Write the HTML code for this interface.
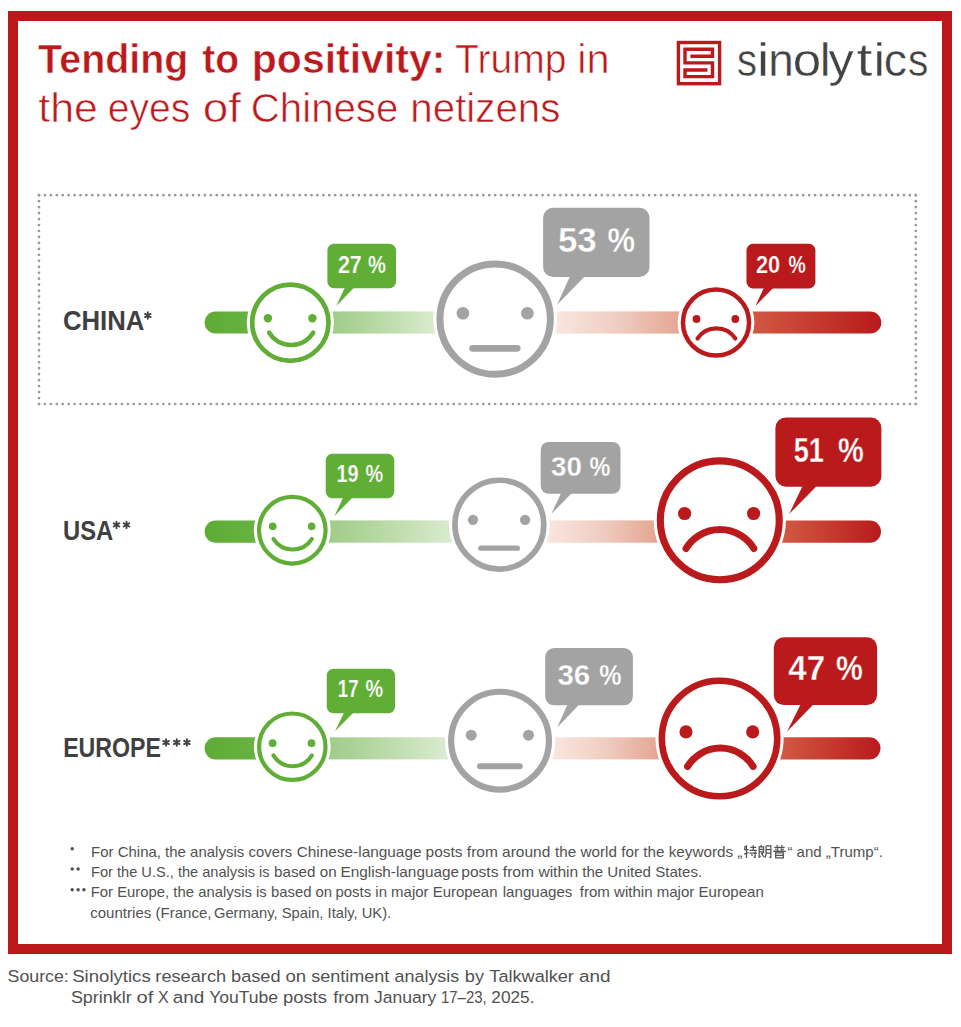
<!DOCTYPE html>
<html><head><meta charset="utf-8"><title>Trump in the eyes of Chinese netizens</title>
<style>
html,body{margin:0;padding:0;background:#fff;}
body{width:961px;height:1027px;overflow:hidden;position:relative;font-family:"Liberation Sans",sans-serif;}
svg{position:absolute;left:0;top:0;display:block;}
svg text{font-family:"Liberation Sans",sans-serif;}
</style></head><body>
<svg width="961" height="1027" viewBox="0 0 961 1027">
<defs>
<linearGradient id="g0a" gradientUnits="userSpaceOnUse" x1="204.6" x2="247.5" y1="0" y2="0"><stop offset="0" stop-color="#5dac34"/><stop offset="1" stop-color="#67b241"/></linearGradient>
<linearGradient id="g1a" gradientUnits="userSpaceOnUse" x1="333.3" x2="433.8" y1="0" y2="0"><stop offset="0" stop-color="#a0cc89"/><stop offset="0.5" stop-color="#bcdba9"/><stop offset="1" stop-color="#d9ebcf"/></linearGradient>
<linearGradient id="g2a" gradientUnits="userSpaceOnUse" x1="556.5" x2="678.5" y1="0" y2="0"><stop offset="0" stop-color="#f9e6df"/><stop offset="0.5" stop-color="#f0cdc1"/><stop offset="1" stop-color="#e4a794"/></linearGradient>
<linearGradient id="g3a" gradientUnits="userSpaceOnUse" x1="753.5" x2="881.3" y1="0" y2="0"><stop offset="0" stop-color="#d15843"/><stop offset="0.5" stop-color="#c5392d"/><stop offset="1" stop-color="#b81a1c"/></linearGradient>

<linearGradient id="g0b" gradientUnits="userSpaceOnUse" x1="204.6" x2="254.9" y1="0" y2="0"><stop offset="0" stop-color="#5dac34"/><stop offset="1" stop-color="#67b241"/></linearGradient>
<linearGradient id="g1b" gradientUnits="userSpaceOnUse" x1="329.2" x2="450.7" y1="0" y2="0"><stop offset="0" stop-color="#a0cc89"/><stop offset="0.5" stop-color="#bcdba9"/><stop offset="1" stop-color="#d9ebcf"/></linearGradient>
<linearGradient id="g2b" gradientUnits="userSpaceOnUse" x1="546.9" x2="654.5" y1="0" y2="0"><stop offset="0" stop-color="#f9e6df"/><stop offset="0.5" stop-color="#f0cdc1"/><stop offset="1" stop-color="#e4a794"/></linearGradient>
<linearGradient id="g3b" gradientUnits="userSpaceOnUse" x1="784.5" x2="881.0" y1="0" y2="0"><stop offset="0" stop-color="#d15843"/><stop offset="0.5" stop-color="#c5392d"/><stop offset="1" stop-color="#b81a1c"/></linearGradient>

<linearGradient id="g0c" gradientUnits="userSpaceOnUse" x1="204.6" x2="254.9" y1="0" y2="0"><stop offset="0" stop-color="#5dac34"/><stop offset="1" stop-color="#67b241"/></linearGradient>
<linearGradient id="g1c" gradientUnits="userSpaceOnUse" x1="329.2" x2="446.0" y1="0" y2="0"><stop offset="0" stop-color="#a0cc89"/><stop offset="0.5" stop-color="#bcdba9"/><stop offset="1" stop-color="#d9ebcf"/></linearGradient>
<linearGradient id="g2c" gradientUnits="userSpaceOnUse" x1="554.0" x2="656.6" y1="0" y2="0"><stop offset="0" stop-color="#f9e6df"/><stop offset="0.5" stop-color="#f0cdc1"/><stop offset="1" stop-color="#e4a794"/></linearGradient>
<linearGradient id="g3c" gradientUnits="userSpaceOnUse" x1="782.6" x2="880.5" y1="0" y2="0"><stop offset="0" stop-color="#d15843"/><stop offset="0.5" stop-color="#c5392d"/><stop offset="1" stop-color="#b81a1c"/></linearGradient>
</defs>
<rect x="13" y="16" width="934" height="933" fill="none" stroke="#bb1a1d" stroke-width="10"/>
<g fill="none" stroke="#999" stroke-width="2.7" stroke-linecap="round"><path d="M39.0 195.2 H915.8" stroke-dasharray="0 5.9243"/><path d="M39.0 404.0 H915.8" stroke-dasharray="0 5.9243"/><path d="M39.0 195.2 V404.0" stroke-dasharray="0 5.9657"/><path d="M915.8 195.2 V404.0" stroke-dasharray="0 5.9657"/></g>
<text x="38.11" y="72.9" font-size="40.0" font-weight="bold" fill="#bb1a1d" textLength="150.32" lengthAdjust="spacingAndGlyphs" stroke="#fff" stroke-width="0.5">Tending</text>
<text x="202.21" y="72.9" font-size="40.0" font-weight="bold" fill="#bb1a1d" textLength="36.91" lengthAdjust="spacingAndGlyphs" stroke="#fff" stroke-width="0.5">to</text>
<text x="251.83" y="72.9" font-size="40.0" font-weight="bold" fill="#bb1a1d" textLength="193.57" lengthAdjust="spacingAndGlyphs" stroke="#fff" stroke-width="0.5">positivity:</text>
<text x="455.02" y="72.9" font-size="40.0" fill="#bb1a1d" textLength="111.43" lengthAdjust="spacingAndGlyphs" stroke="#fff" stroke-width="0.6">Trump</text>
<text x="577.39" y="72.9" font-size="40.0" fill="#bb1a1d" textLength="32.35" lengthAdjust="spacingAndGlyphs" stroke="#fff" stroke-width="0.6">in</text>
<text x="38.24" y="121.7" font-size="40.0" fill="#bb1a1d" textLength="59.68" lengthAdjust="spacingAndGlyphs" stroke="#fff" stroke-width="0.6">the</text>
<text x="107.74" y="121.7" font-size="40.0" fill="#bb1a1d" textLength="82.53" lengthAdjust="spacingAndGlyphs" stroke="#fff" stroke-width="0.6">eyes</text>
<text x="202.76" y="121.7" font-size="40.0" fill="#bb1a1d" textLength="38.32" lengthAdjust="spacingAndGlyphs" stroke="#fff" stroke-width="0.6">of</text>
<text x="250.79" y="121.7" font-size="40.0" fill="#bb1a1d" textLength="147.58" lengthAdjust="spacingAndGlyphs" stroke="#fff" stroke-width="0.6">Chinese</text>
<text x="410.38" y="121.7" font-size="40.0" fill="#bb1a1d" textLength="149.91" lengthAdjust="spacingAndGlyphs" stroke="#fff" stroke-width="0.6">netizens</text>
<text x="736.9" y="75.9" font-size="47.0" fill="#434343" textLength="20.0" lengthAdjust="spacingAndGlyphs" stroke="#fff" stroke-width="0.4">s</text>
<text x="756.95" y="75.9" font-size="47.0" fill="#434343" textLength="12.22" lengthAdjust="spacingAndGlyphs" stroke="#fff" stroke-width="0.4">i</text>
<text x="768.18" y="75.9" font-size="47.0" fill="#434343" textLength="25.56" lengthAdjust="spacingAndGlyphs" stroke="#fff" stroke-width="0.4">n</text>
<text x="792.76" y="75.9" font-size="47.0" fill="#434343" textLength="28.4" lengthAdjust="spacingAndGlyphs" stroke="#fff" stroke-width="0.4">o</text>
<text x="819.78" y="75.9" font-size="47.0" fill="#434343" textLength="10.86" lengthAdjust="spacingAndGlyphs" stroke="#fff" stroke-width="0.4">l</text>
<text x="828.4" y="75.9" font-size="47.0" fill="#434343" textLength="25.2" lengthAdjust="spacingAndGlyphs" stroke="#fff" stroke-width="0.4">y</text>
<text x="856.46" y="75.9" font-size="47.0" fill="#434343" textLength="15.9" lengthAdjust="spacingAndGlyphs" stroke="#fff" stroke-width="0.4">t</text>
<text x="873.43" y="75.9" font-size="47.0" fill="#434343" textLength="11.66" lengthAdjust="spacingAndGlyphs" stroke="#fff" stroke-width="0.4">i</text>
<text x="883.84" y="75.9" font-size="47.0" fill="#434343" textLength="23.26" lengthAdjust="spacingAndGlyphs" stroke="#fff" stroke-width="0.4">c</text>
<text x="907.88" y="75.9" font-size="47.0" fill="#434343" textLength="20.35" lengthAdjust="spacingAndGlyphs" stroke="#fff" stroke-width="0.4">s</text>

<g fill="none" stroke="#bb1a1d" stroke-width="3.4">
<rect x="678.4" y="42.5" width="41.2" height="41.2"/>
<path d="M690.4 56.2 H712.5 V49.3 H685 V62.9 H712.5 V76.6 H685 V70 H707.5"/>
</g>

<text x="62.97" y="330.2" font-size="27.3" font-weight="bold" fill="#404040" textLength="81.46" lengthAdjust="spacingAndGlyphs">CHINA</text>
<text x="62.97" y="539.6" font-size="27.3" font-weight="bold" fill="#404040" textLength="50.28" lengthAdjust="spacingAndGlyphs">USA</text>
<text x="63.18" y="757.2" font-size="27.0" font-weight="bold" fill="#404040" textLength="97.82" lengthAdjust="spacingAndGlyphs">EUROPE</text>
<path d="M147.80 318.75 L147.80 312.25 M144.99 317.12 L150.61 313.88 M150.61 317.12 L144.99 313.88 " stroke="#404040" stroke-width="1.85" stroke-linecap="round" fill="none"/>
<path d="M116.50 528.15 L116.50 521.65 M113.69 526.52 L119.31 523.27 M119.31 526.52 L113.69 523.27 " stroke="#404040" stroke-width="1.85" stroke-linecap="round" fill="none"/>
<path d="M126.50 528.15 L126.50 521.65 M123.69 526.52 L129.31 523.27 M129.31 526.52 L123.69 523.27 " stroke="#404040" stroke-width="1.85" stroke-linecap="round" fill="none"/>
<path d="M166.10 745.75 L166.10 739.25 M163.29 744.12 L168.91 740.88 M168.91 744.12 L163.29 740.88 " stroke="#404040" stroke-width="1.85" stroke-linecap="round" fill="none"/>
<path d="M176.70 745.75 L176.70 739.25 M173.89 744.12 L179.51 740.88 M179.51 744.12 L173.89 740.88 " stroke="#404040" stroke-width="1.85" stroke-linecap="round" fill="none"/>
<path d="M186.90 745.75 L186.90 739.25 M184.09 744.12 L189.71 740.88 M189.71 744.12 L184.09 740.88 " stroke="#404040" stroke-width="1.85" stroke-linecap="round" fill="none"/>
<path d="M215.70000000000002 311.4 L291 311.4 L291 333.6 L215.70000000000002 333.6 A11.100000000000023 11.100000000000023 0 0 1 215.70000000000002 311.4 Z" fill="url(#g0a)"/>
<rect x="291" y="311.4" width="204" height="22.200000000000045" fill="url(#g1a)"/>
<rect x="495" y="311.4" width="221" height="22.200000000000045" fill="url(#g2a)"/>
<path d="M716 311.4 L870.1999999999999 311.4 A11.100000000000023 11.100000000000023 0 0 1 870.1999999999999 333.6 L716 333.6 Z" fill="url(#g3a)"/>
<circle cx="290.35" cy="322.7" r="43.6" fill="#fff"/>
<circle cx="290.35" cy="322.7" r="38.15" fill="#fff" stroke="#60ae36" stroke-width="4.7"/>
<circle cx="267.9" cy="318.3" r="4.2" fill="#60ae36"/>
<circle cx="312.4" cy="318.3" r="4.2" fill="#60ae36"/>
<path d="M269.20 332.70 A25.82 25.82 0 0 0 313.20 332.70" fill="none" stroke="#60ae36" stroke-width="4.5" stroke-linecap="round"/>
<circle cx="495.15" cy="319.1" r="61.800000000000004" fill="#fff"/>
<circle cx="495.15" cy="319.1" r="55.2" fill="#fff" stroke="#a3a3a3" stroke-width="7.0"/>
<circle cx="462.9" cy="313.2" r="6.3" fill="#a3a3a3"/>
<circle cx="527.4" cy="313.2" r="6.3" fill="#a3a3a3"/>
<line x1="472.6" y1="348.3" x2="517.2" y2="348.3" stroke="#a3a3a3" stroke-width="6.8" stroke-linecap="round"/>
<circle cx="716" cy="322.5" r="38.4" fill="#fff"/>
<circle cx="716" cy="322.5" r="33.05" fill="#fff" stroke="#bb1a1d" stroke-width="4.5"/>
<circle cx="696.5" cy="319.0" r="3.9" fill="#bb1a1d"/>
<circle cx="735.3" cy="319.0" r="3.9" fill="#bb1a1d"/>
<path d="M697.50 338.50 A22.83 22.83 0 0 1 735.40 338.50" fill="none" stroke="#bb1a1d" stroke-width="4.1" stroke-linecap="round"/>
<rect x="327.4" y="243.8" width="68.60" height="44.40" rx="6.5" fill="#60ae36"/>
<path d="M345.0 287.2 L354.4 287.2 L336.25 306.0 Z" fill="#60ae36"/>
<text x="337.94" y="272.5" font-size="23.29" font-weight="bold" fill="#fff" textLength="23.88" lengthAdjust="spacingAndGlyphs" stroke="#60ae36" stroke-width="0.23">27</text>
<text x="367.88" y="272.5" font-size="23.29" font-weight="bold" fill="#fff" textLength="17.92" lengthAdjust="spacingAndGlyphs" stroke="#60ae36" stroke-width="0.23">%</text>
<rect x="543.1" y="207.8" width="106.40" height="69.20" rx="10" fill="#a3a3a3"/>
<path d="M570.1 276.0 L585.1 276.0 L557.1 304.7 Z" fill="#a3a3a3"/>
<text x="557.88" y="252.0" font-size="35.29" font-weight="bold" fill="#fff" textLength="38.88" lengthAdjust="spacingAndGlyphs" stroke="#a3a3a3" stroke-width="0.35">53</text>
<text x="607.39" y="252.0" font-size="35.29" font-weight="bold" fill="#fff" textLength="27.59" lengthAdjust="spacingAndGlyphs" stroke="#a3a3a3" stroke-width="0.35">%</text>
<rect x="746.5" y="243.8" width="68.90" height="44.60" rx="6.5" fill="#bb1a1d"/>
<path d="M764.1 287.4 L773.7 287.4 L755.4 305.9 Z" fill="#bb1a1d"/>
<text x="755.93" y="272.6" font-size="23.29" font-weight="bold" fill="#fff" textLength="24.2" lengthAdjust="spacingAndGlyphs" stroke="#bb1a1d" stroke-width="0.23">20</text>
<text x="788.4" y="272.6" font-size="23.29" font-weight="bold" fill="#fff" textLength="17.28" lengthAdjust="spacingAndGlyphs" stroke="#bb1a1d" stroke-width="0.23">%</text>
<path d="M215.75000000000003 520.4 L292 520.4 L292 542.7 L215.75000000000003 542.7 A11.150000000000034 11.150000000000034 0 0 1 215.75000000000003 520.4 Z" fill="url(#g0b)"/>
<rect x="292" y="520.4" width="207" height="22.300000000000068" fill="url(#g1b)"/>
<rect x="499" y="520.4" width="221" height="22.300000000000068" fill="url(#g2b)"/>
<path d="M720 520.4 L869.8499999999999 520.4 A11.150000000000034 11.150000000000034 0 0 1 869.8499999999999 542.7 L720 542.7 Z" fill="url(#g3b)"/>
<circle cx="292.3" cy="530.25" r="38.5" fill="#fff"/>
<circle cx="292.3" cy="530.25" r="33.3" fill="#fff" stroke="#60ae36" stroke-width="4.2"/>
<circle cx="272.7" cy="526.3" r="3.85" fill="#60ae36"/>
<circle cx="311.6" cy="526.3" r="3.85" fill="#60ae36"/>
<path d="M273.40 538.90 A22.78 22.78 0 0 0 311.90 538.90" fill="none" stroke="#60ae36" stroke-width="4.0" stroke-linecap="round"/>
<circle cx="499.35" cy="524.65" r="50.35" fill="#fff"/>
<circle cx="499.35" cy="524.65" r="44.4" fill="#fff" stroke="#a3a3a3" stroke-width="5.7"/>
<circle cx="473.0" cy="519.8" r="5.15" fill="#a3a3a3"/>
<circle cx="525.1" cy="519.8" r="5.15" fill="#a3a3a3"/>
<line x1="480.8" y1="548.2" x2="517.4" y2="548.2" stroke="#a3a3a3" stroke-width="5.2" stroke-linecap="round"/>
<circle cx="719.8" cy="520.3" r="66.1" fill="#fff"/>
<circle cx="719.8" cy="520.3" r="59.45" fill="#fff" stroke="#bb1a1d" stroke-width="7.1"/>
<circle cx="684.6" cy="513.5" r="6.6" fill="#bb1a1d"/>
<circle cx="753.6" cy="513.5" r="6.6" fill="#bb1a1d"/>
<path d="M686.10 548.40 A39.76 39.76 0 0 1 753.80 548.40" fill="none" stroke="#bb1a1d" stroke-width="7.1" stroke-linecap="round"/>
<rect x="325.75" y="453.75" width="68.50" height="44.50" rx="6.5" fill="#60ae36"/>
<path d="M343.25 497.25 L352.75 497.25 L334.5 516.0 Z" fill="#60ae36"/>
<text x="336.48" y="482.0" font-size="23.71" font-weight="bold" fill="#fff" textLength="22.18" lengthAdjust="spacingAndGlyphs" stroke="#60ae36" stroke-width="0.24">19</text>
<text x="365.49" y="482.0" font-size="23.71" font-weight="bold" fill="#fff" textLength="17.61" lengthAdjust="spacingAndGlyphs" stroke="#60ae36" stroke-width="0.24">%</text>
<rect x="540.7" y="441.9" width="79.80" height="51.90" rx="8" fill="#a3a3a3"/>
<path d="M561.2 492.8 L572.1 492.8 L551.3 514.1 Z" fill="#a3a3a3"/>
<text x="551.11" y="475.5" font-size="27.43" font-weight="bold" fill="#fff" textLength="30.9" lengthAdjust="spacingAndGlyphs" stroke="#a3a3a3" stroke-width="0.27">30</text>
<text x="589.56" y="475.5" font-size="27.43" font-weight="bold" fill="#fff" textLength="20.86" lengthAdjust="spacingAndGlyphs" stroke="#a3a3a3" stroke-width="0.27">%</text>
<rect x="775.4" y="417.5" width="106.00" height="69.20" rx="10.5" fill="#bb1a1d"/>
<path d="M802.7 485.7 L817.0 485.7 L789.1 514.1 Z" fill="#bb1a1d"/>
<text x="793.71" y="462.0" font-size="35.29" font-weight="bold" fill="#fff" textLength="30.25" lengthAdjust="spacingAndGlyphs" stroke="#bb1a1d" stroke-width="0.35">51</text>
<text x="838.06" y="462.0" font-size="35.29" font-weight="bold" fill="#fff" textLength="25.77" lengthAdjust="spacingAndGlyphs" stroke="#bb1a1d" stroke-width="0.35">%</text>
<path d="M215.65 737.3 L292 737.3 L292 759.4 L215.65 759.4 A11.050000000000011 11.050000000000011 0 0 1 215.65 737.3 Z" fill="url(#g0c)"/>
<rect x="292" y="737.3" width="208" height="22.100000000000023" fill="url(#g1c)"/>
<rect x="500" y="737.3" width="220" height="22.100000000000023" fill="url(#g2c)"/>
<path d="M720 737.3 L869.45 737.3 A11.050000000000011 11.050000000000011 0 0 1 869.45 759.4 L720 759.4 Z" fill="url(#g3c)"/>
<circle cx="292.3" cy="746.7" r="38.4" fill="#fff"/>
<circle cx="292.3" cy="746.7" r="33.199999999999996" fill="#fff" stroke="#60ae36" stroke-width="4.2"/>
<circle cx="272.6" cy="743.2" r="3.85" fill="#60ae36"/>
<circle cx="311.5" cy="743.2" r="3.85" fill="#60ae36"/>
<path d="M273.40 755.40 A22.56 22.56 0 0 0 311.90 755.40" fill="none" stroke="#60ae36" stroke-width="4.0" stroke-linecap="round"/>
<circle cx="500.05" cy="740.65" r="55.1" fill="#fff"/>
<circle cx="500.05" cy="740.65" r="48.9" fill="#fff" stroke="#a3a3a3" stroke-width="6.2"/>
<circle cx="471.2" cy="735.2" r="5.5" fill="#a3a3a3"/>
<circle cx="528.5" cy="735.2" r="5.5" fill="#a3a3a3"/>
<line x1="480.1" y1="766.2" x2="519.7" y2="766.2" stroke="#a3a3a3" stroke-width="6.0" stroke-linecap="round"/>
<circle cx="719.55" cy="738.5" r="64.1" fill="#fff"/>
<circle cx="719.55" cy="738.5" r="57.7" fill="#fff" stroke="#bb1a1d" stroke-width="6.6"/>
<circle cx="686.0" cy="731.9" r="6.55" fill="#bb1a1d"/>
<circle cx="752.7" cy="731.9" r="6.55" fill="#bb1a1d"/>
<path d="M687.60 766.40 A38.45 38.45 0 0 1 753.10 766.40" fill="none" stroke="#bb1a1d" stroke-width="7.0" stroke-linecap="round"/>
<rect x="326.75" y="668.75" width="68.25" height="44.50" rx="6.5" fill="#60ae36"/>
<path d="M344.25 712.25 L353.75 712.25 L335.0 731.25 Z" fill="#60ae36"/>
<text x="337.87" y="697.3" font-size="23.14" font-weight="bold" fill="#fff" textLength="20.74" lengthAdjust="spacingAndGlyphs" stroke="#60ae36" stroke-width="0.23">17</text>
<text x="365.49" y="697.3" font-size="23.14" font-weight="bold" fill="#fff" textLength="17.6" lengthAdjust="spacingAndGlyphs" stroke="#60ae36" stroke-width="0.23">%</text>
<rect x="545.2" y="648.1" width="87.70" height="57.20" rx="9" fill="#a3a3a3"/>
<path d="M567.6 704.3 L579.5 704.3 L557.2 727.4 Z" fill="#a3a3a3"/>
<text x="557.46" y="684.7" font-size="29.71" font-weight="bold" fill="#fff" textLength="32.84" lengthAdjust="spacingAndGlyphs" stroke="#a3a3a3" stroke-width="0.3">36</text>
<text x="599.2" y="684.7" font-size="29.71" font-weight="bold" fill="#fff" textLength="22.28" lengthAdjust="spacingAndGlyphs" stroke="#a3a3a3" stroke-width="0.3">%</text>
<rect x="773.8" y="637.2" width="103.30" height="67.90" rx="10" fill="#bb1a1d"/>
<path d="M800.8 704.1 L813.8 704.1 L787.1 731.5 Z" fill="#bb1a1d"/>
<text x="788.27" y="680.1" font-size="34.43" font-weight="bold" fill="#fff" textLength="36.8" lengthAdjust="spacingAndGlyphs" stroke="#bb1a1d" stroke-width="0.34">47</text>
<text x="836.12" y="680.1" font-size="34.43" font-weight="bold" fill="#fff" textLength="26.83" lengthAdjust="spacingAndGlyphs" stroke="#bb1a1d" stroke-width="0.34">%</text>
<g fill="#515151"><circle cx="72.2" cy="848.7" r="1.75"/><circle cx="72.2" cy="869.1" r="1.75"/><circle cx="78.1" cy="869.1" r="1.75"/><circle cx="72.2" cy="889.7" r="1.75"/><circle cx="78.1" cy="889.7" r="1.75"/><circle cx="83.9" cy="889.7" r="1.75"/></g>
<text x="91.0" y="856.6" font-size="14.3" fill="#515151" textLength="153.26" lengthAdjust="spacingAndGlyphs">For China, the analysis</text>
<text x="248.61" y="856.6" font-size="14.3" fill="#515151" textLength="43.62" lengthAdjust="spacingAndGlyphs">covers</text>
<text x="296.73" y="856.6" font-size="14.3" fill="#515151" textLength="124.79" lengthAdjust="spacingAndGlyphs">Chinese-language</text>
<text x="425.62" y="856.6" font-size="14.3" fill="#515151" textLength="124.66" lengthAdjust="spacingAndGlyphs">posts from around</text>
<text x="555.1" y="856.6" font-size="14.3" fill="#515151" textLength="187.31" lengthAdjust="spacingAndGlyphs">the world for the keywords „</text>
<text x="787.4" y="856.6" font-size="14.3" fill="#515151" textLength="95.5" lengthAdjust="spacingAndGlyphs">“ and „Trump“.</text>
<text x="91.03" y="876.9" font-size="14.3" fill="#515151" textLength="178.61" lengthAdjust="spacingAndGlyphs">For the U.S., the analysis is</text>
<text x="274.14" y="876.9" font-size="14.3" fill="#515151" textLength="62.45" lengthAdjust="spacingAndGlyphs">based on</text>
<text x="340.57" y="876.9" font-size="14.3" fill="#515151" textLength="118.46" lengthAdjust="spacingAndGlyphs">English-language</text>
<text x="461.21" y="876.9" font-size="14.3" fill="#515151" textLength="117.07" lengthAdjust="spacingAndGlyphs">posts from within</text>
<text x="582.2" y="876.9" font-size="14.3" fill="#515151" textLength="119.95" lengthAdjust="spacingAndGlyphs">the United States.</text>
<text x="90.71" y="897.4" font-size="14.3" fill="#515151" textLength="241.41" lengthAdjust="spacingAndGlyphs">For Europe, the analysis is based on</text>
<text x="335.45" y="897.4" font-size="14.3" fill="#515151" textLength="162.08" lengthAdjust="spacingAndGlyphs">posts in major European</text>
<text x="502.74" y="897.4" font-size="14.3" fill="#515151" textLength="69.69" lengthAdjust="spacingAndGlyphs">languages</text>
<text x="579.75" y="897.4" font-size="14.3" fill="#515151" textLength="184.07" lengthAdjust="spacingAndGlyphs">from within major European</text>
<text x="90.2" y="917.8" font-size="14.3" fill="#515151" textLength="121.34" lengthAdjust="spacingAndGlyphs">countries (France,</text>
<text x="213.96" y="917.8" font-size="14.3" fill="#515151" textLength="177.2" lengthAdjust="spacingAndGlyphs">Germany, Spain, Italy, UK).</text>
<g fill="none" stroke="#515151" stroke-width="1.3" stroke-linecap="butt"><path transform="translate(743.60 845.0) scale(0.957)" d="M1.8 1 L1 4.2 M0.5 4.8 H5.2 M3 0.3 V13.5 M0.5 9.5 L5.2 7.8 M7 2.6 H13.2 M10.1 0.3 V5.6 M6.2 5.6 H14 M6.2 8.4 H14 M12 6.5 V13 L10.6 12.6 M8.2 9.8 L9.3 11.4"/><path transform="translate(758.20 845.0) scale(0.957)" d="M3.2 0 V1.6 M1 2 H5.6 V7.2 H1 Z M1 4.6 H5.6 M1 7.2 V12.6 L2.6 11.6 M3.2 8.4 L6.2 12.8 M5.6 7.6 L4 9.6 M8.2 1 V10 L7 13.2 M8.2 1 H13.2 V13 L11.6 12.6 M8.2 4.8 H13.2 M8.2 8.4 H13.2"/><path transform="translate(772.80 845.0) scale(0.957)" d="M4 0 L5 1.6 M10 0 L9 1.6 M1.6 2.6 H12.4 M5.2 2.6 V6.4 M8.8 2.6 V6.4 M2.8 3.8 L3.8 5.6 M11.2 3.8 L10.2 5.6 M0.4 6.6 H13.6 M3 8.2 H11 V13.4 H3 Z M3 10.8 H11"/></g>
<text x="7.61" y="982.3" font-size="17.4" fill="#515151" textLength="61.2" lengthAdjust="spacingAndGlyphs">Source:</text>
<text x="72.17" y="982.3" font-size="17.4" fill="#515151" textLength="78.56" lengthAdjust="spacingAndGlyphs">Sinolytics</text>
<text x="155.33" y="982.3" font-size="17.4" fill="#515151" textLength="70.78" lengthAdjust="spacingAndGlyphs">research</text>
<text x="231.03" y="982.3" font-size="17.4" fill="#515151" textLength="49.55" lengthAdjust="spacingAndGlyphs">based</text>
<text x="285.46" y="982.3" font-size="17.4" fill="#515151" textLength="20.71" lengthAdjust="spacingAndGlyphs">on</text>
<text x="311.26" y="982.3" font-size="17.4" fill="#515151" textLength="78.14" lengthAdjust="spacingAndGlyphs">sentiment</text>
<text x="394.48" y="982.3" font-size="17.4" fill="#515151" textLength="64.81" lengthAdjust="spacingAndGlyphs">analysis</text>
<text x="464.83" y="982.3" font-size="17.4" fill="#515151" textLength="19.18" lengthAdjust="spacingAndGlyphs">by</text>
<text x="489.34" y="982.3" font-size="17.4" fill="#515151" textLength="84.59" lengthAdjust="spacingAndGlyphs">Talkwalker</text>
<text x="578.94" y="982.3" font-size="17.4" fill="#515151" textLength="31.55" lengthAdjust="spacingAndGlyphs">and</text>
<text x="70.9" y="1002.6" font-size="17.4" fill="#515151" textLength="60.85" lengthAdjust="spacingAndGlyphs">Sprinklr</text>
<text x="136.59" y="1002.6" font-size="17.4" fill="#515151" textLength="16.79" lengthAdjust="spacingAndGlyphs">of</text>
<text x="158.02" y="1002.6" font-size="17.4" fill="#515151" textLength="10.72" lengthAdjust="spacingAndGlyphs">X</text>
<text x="172.84" y="1002.6" font-size="17.4" fill="#515151" textLength="31.55" lengthAdjust="spacingAndGlyphs">and</text>
<text x="209.27" y="1002.6" font-size="17.4" fill="#515151" textLength="68.8" lengthAdjust="spacingAndGlyphs">YouTube</text>
<text x="282.91" y="1002.6" font-size="17.4" fill="#515151" textLength="44.03" lengthAdjust="spacingAndGlyphs">posts</text>
<text x="333.22" y="1002.6" font-size="17.4" fill="#515151" textLength="36.04" lengthAdjust="spacingAndGlyphs">from</text>
<text x="374.05" y="1002.6" font-size="17.4" fill="#515151" textLength="62.28" lengthAdjust="spacingAndGlyphs">January</text>
<text x="440.9" y="1002.6" font-size="17.4" fill="#515151" textLength="45.83" lengthAdjust="spacingAndGlyphs">17–23,</text>
<text x="491.34" y="1002.6" font-size="17.4" fill="#515151" textLength="43.16" lengthAdjust="spacingAndGlyphs">2025.</text>
</svg>
</body></html>
